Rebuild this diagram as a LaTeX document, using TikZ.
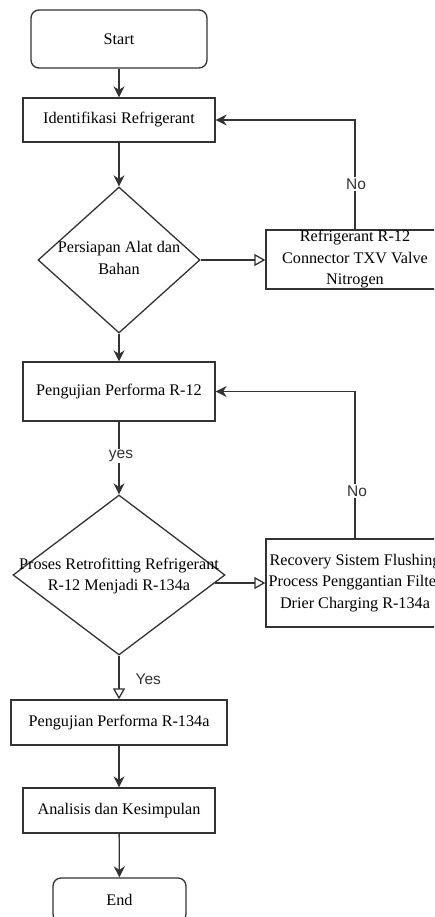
\documentclass[tikz,border=0pt]{standalone}
\usepackage{fontspec}
\setmainfont{Liberation Serif}
\newfontfamily\labfont{Liberation Sans}
\usetikzlibrary{arrows.meta,shapes.geometric}
\definecolor{ln}{HTML}{333333}
\tikzset{
  box/.style={draw=ln, line width=1.3pt, rectangle, inner sep=0pt, align=center,
              font=\fontsize{16.2}{21.5}\selectfont, text=black},
  term/.style={box, rounded corners=8pt},
  dec/.style={draw=ln, line width=1.3pt, diamond, inner sep=0pt},
  dectext/.style={align=center, font=\fontsize{16.2}{21.5}\selectfont, inner sep=0pt},
  conn/.style={draw=ln, line width=1.3pt, -{Stealth[length=11pt,width=11pt,inset=3.5pt]}},
  oconn/.style={draw=ln, line width=1.3pt, -{Triangle[open,length=11pt,width=12pt,fill=white]}},
  lab/.style={font=\labfont\fontsize{15.5}{18}\selectfont, text=ln, fill=white, inner sep=1.5pt},
}
\begin{document}
\begin{tikzpicture}[x=1pt,y=-1pt]
\useasboundingbox (0,0) rectangle (434,917);
\clip (0,0) rectangle (434,917);
\fill[white] (0,0) rectangle (434,917);
% nodes
\node[term, minimum width=176pt, minimum height=58pt] (start) at (119,39) {Start};
\node[box, minimum width=192pt, minimum height=44pt] (ident) at (119,120) {Identifikasi Refrigerant};
\node[dec, minimum width=162pt, minimum height=146pt] (d1) at (119,260) {};
\node[dectext] (d1t) at (119,258) {Persiapan Alat dan\\Bahan};
\node[box, minimum width=178pt, minimum height=59pt] (b1) at (355,259.5) {Refrigerant R-12\\Connector TXV Valve\\Nitrogen};
\node[box, minimum width=192pt, minimum height=59pt] (p12) at (119,391.5) {Pengujian Performa R-12};
\node[dec, minimum width=212pt, minimum height=160pt] (d2) at (119,575) {};
\node[dectext] (d2t) at (119,576) {Proses Retrofitting Refrigerant\\R-12 Menjadi R-134a};
\node[box, minimum width=178pt, minimum height=88pt] (b2) at (355,583) {Recovery Sistem Flushing\\Process Penggantian Filter\\Drier Charging R-134a};
\node[box, minimum width=216pt, minimum height=45pt] (p134) at (119,722.5) {Pengujian Performa R-134a};
\node[box, minimum width=192pt, minimum height=45pt] (anal) at (119,810.5) {Analisis dan Kesimpulan};
\node[term, minimum width=133pt, minimum height=44pt] (end) at (119.5,900) {End};
% connectors
\draw[conn] (start) -- (ident);
\draw[conn] (ident) -- (d1);
\draw[oconn] (d1.east) -- (b1.west |- d1.east);
\draw[conn] (b1.north) -- (b1.north |- ident.east) -- (ident.east);
\node[lab] (no1) at (356,184) {No};
\draw[conn] (d1.south) -- (p12.north);
\draw[conn] (p12.south) -- (d2.north);
\node[lab] (yes1) at (121,456) {yes};
\coordinate (d2r) at (214.5,583);
\draw[oconn] (d2r) -- (b2.west |- d2r);
\draw[conn] (b2.north) -- (b2.north |- p12.east) -- (p12.east);
\node[lab] (no2) at (357,491) {No};
\draw[oconn] (d2.south) -- (p134.north);
\node[lab, fill=none, anchor=west] (yes2) at (134,679) {Yes};
\draw[conn] (p134) -- (anal);
\draw[conn] (anal) -- (end);
\end{tikzpicture}
\end{document}
